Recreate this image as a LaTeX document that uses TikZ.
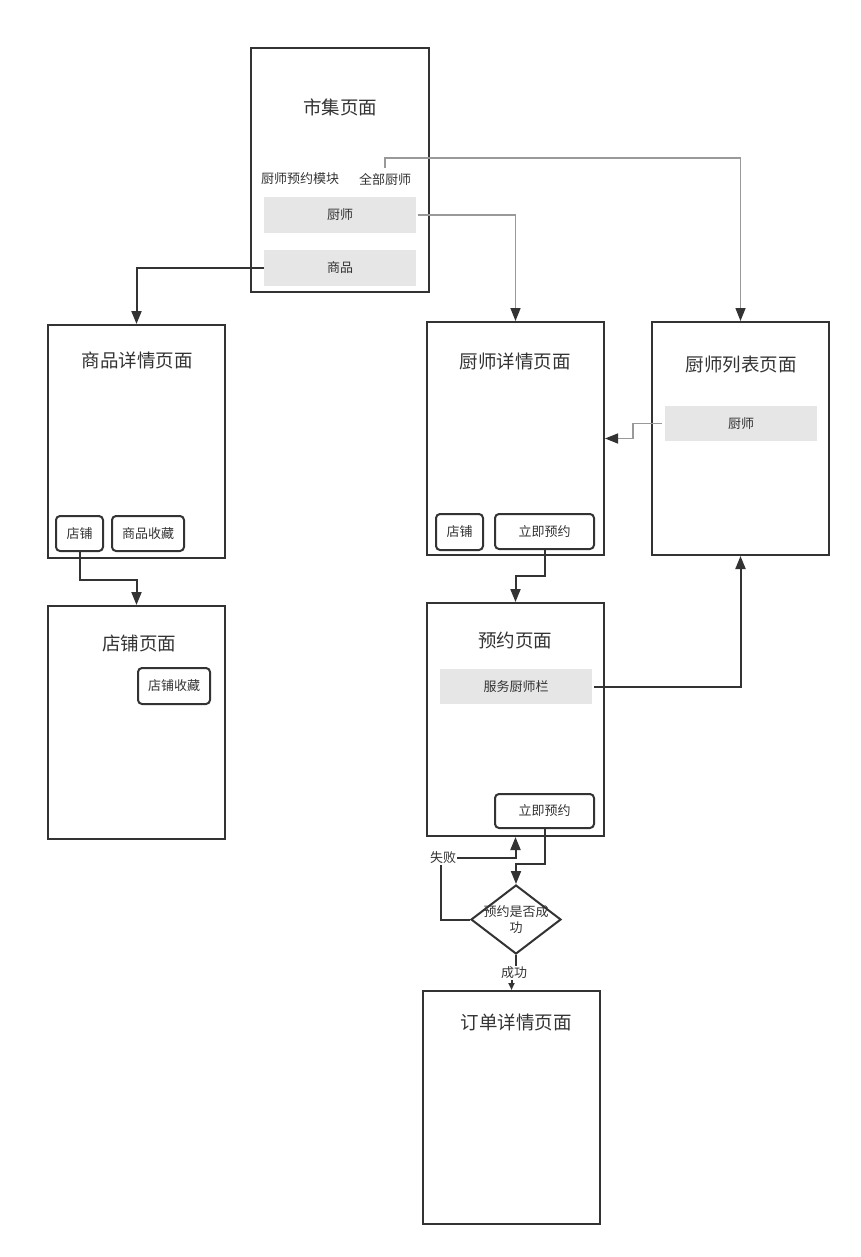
\documentclass[tikz,border=0pt]{standalone}
\usepackage{fontspec}
\newfontfamily\cjk{Noto Sans CJK SC}
\usetikzlibrary{arrows.meta,shapes.geometric}
\definecolor{darkc}{HTML}{333333}
\definecolor{greyc}{HTML}{E6E6E6}
\definecolor{linec}{HTML}{999999}
\tikzset{
  page/.style={draw=darkc,line width=2pt,minimum width=177pt,minimum height=233pt,inner sep=0pt},
  ttl/.style={font=\cjk\fontsize{18.5}{22}\selectfont,text=darkc,inner sep=1pt},
  small/.style={font=\cjk\fontsize{13}{16}\selectfont,text=darkc,inner sep=1pt},
  btn/.style={small,draw=darkc,line width=2pt,rounded corners=4pt,minimum height=35pt,inner sep=0pt},
  grey/.style={small,fill=greyc,minimum width=152pt,minimum height=36pt,inner sep=0pt},
  tip/.style={-{Triangle[length=13pt,width=10pt,color=darkc]}},
  thickc/.style={draw=darkc,line width=2pt,tip},
  thinc/.style={draw=linec,line width=1.5pt,tip},
  lbl/.style={small,fill=white,inner sep=1pt}
}
\begin{document}
\begin{tikzpicture}[x=1pt,y=-1pt]
\useasboundingbox (0,0) rectangle (861,1257);
% pages
\node[page,minimum width=178pt,minimum height=244pt] (market) at (340,170) {};
\node[ttl] (tmarket) at (340,107) {市集页面};
\node[small] (mod) at (300,179) {厨师预约模块};
\node[small] (all) at (385,179) {全部厨师};
\node[grey] (chef) at (340,215) {厨师};
\node[grey] (goods) at (340,268) {商品};

\node[page] (gdetail) at (136.5,441.5) {};
\node[ttl] (tg) at (137,360) {商品详情页面};
\node[btn,minimum width=47pt] (shop1) at (79.5,533.5) {店铺};
\node[btn,minimum width=72pt] (fav1) at (148,533.5) {商品收藏};

\node[page] (shoppage) at (136.5,722.5) {};
\node[ttl] (ts) at (139,643) {店铺页面};
\node[btn,minimum width=72pt,minimum height=36pt] (fav2) at (174,686) {店铺收藏};

\node[page] (detail) at (515.5,438.5) {};
\node[ttl] (td) at (515,361) {厨师详情页面};
\node[btn,minimum width=47pt,minimum height=36pt] (shop2) at (459.5,532) {店铺};
\node[btn,minimum width=99pt] (book1) at (544.5,531.5) {立即预约};

\node[page] (list) at (740.5,438.5) {};
\node[ttl] (tl) at (741,365) {厨师列表页面};
\node[grey,minimum height=35pt] (chef2) at (741,423.5) {厨师};

\node[page] (yuyue) at (515.5,719.5) {};
\node[ttl] (ty) at (515,640) {预约页面};
\node[grey,minimum height=35pt] (service) at (516,686.5) {服务厨师栏};
\node[btn,minimum width=99pt,minimum height=34pt] (book2) at (544.5,811) {立即预约};

\node[draw=darkc,line width=2pt,diamond,minimum width=90pt,minimum height=69pt,inner sep=0pt] (dia) at (516,919.5) {};
\node[small,align=center] (diatext) at (516,920) {预约是否成\\功};

\node[page] (order) at (511.5,1107.5) {};
\node[ttl] (to) at (516,1022) {订单详情页面};

% connectors
\draw[thinc] ([yshift=4pt]all.north) -- ++(0,-10) -| (list.north);
\draw[thinc] ([xshift=2pt]chef.east) -| (detail.north);
\draw[thickc] (goods.west) -| (gdetail.north);
\draw[thickc] (shop1.south) -- ++(0,28) -| (shoppage.north);
\draw[thickc] (book1.south) -- ++(0,26) -| (yuyue.north);
\draw[thinc] ([xshift=-3pt]chef2.west) -- ++(-29,0) |- (detail.east);
\draw[thickc] ([xshift=2pt]service.east) -| (list.south);
\draw[thickc] (book2.south) -- ++(0,35) -| (dia.north);
\coordinate (fl) at (441,858);
\draw[thickc] (dia.west) -| (fl) -| (yuyue.south);
\node[lbl] (fail) at (443,858) {失败};
\draw[draw=darkc,line width=2pt,-{Triangle[length=7pt,width=6pt,color=darkc]}] (dia.south) -- ++(0,14) -| (order.north);
\node[lbl] (succ) at (514,973) {成功};
\end{tikzpicture}
\end{document}
